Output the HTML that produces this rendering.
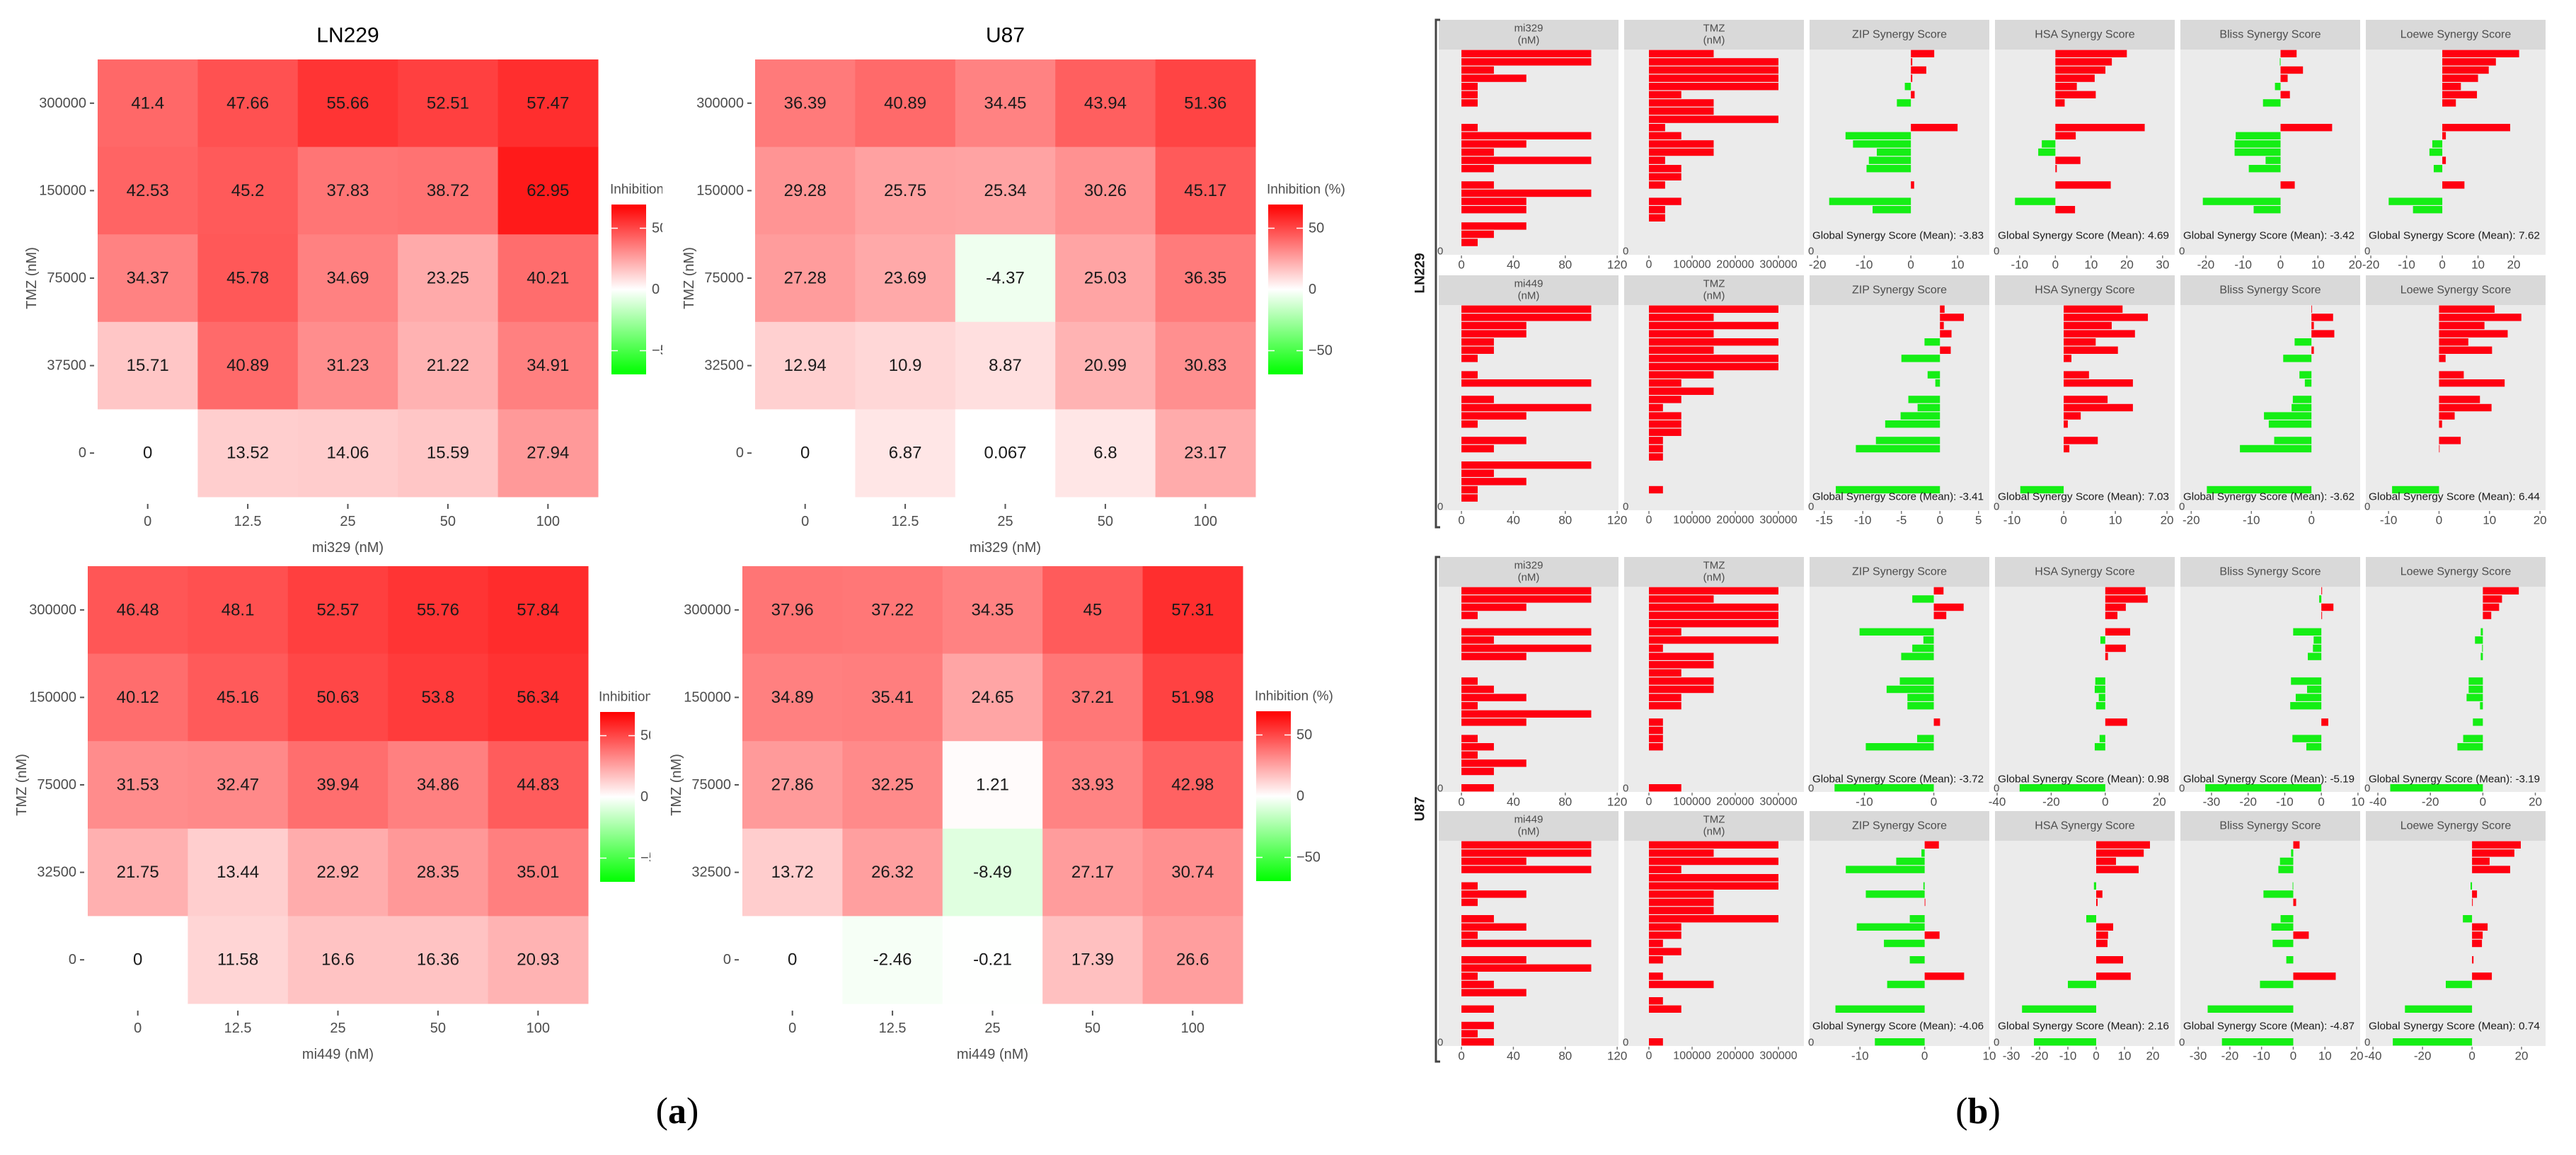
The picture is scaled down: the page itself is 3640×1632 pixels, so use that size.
<!DOCTYPE html>
<html><head><meta charset="utf-8"><title>Heatmaps and synergy scores</title>
<style>html,body{margin:0;padding:0;background:#fff;}svg{display:block;font-family:"Liberation Sans",sans-serif;}</style>
</head><body>
<svg id="fig" xmlns="http://www.w3.org/2000/svg" width="3640" height="1632" viewBox="0 0 3640 1632">
<defs>
<linearGradient id="leg" x1="0" y1="0" x2="0" y2="1"><stop offset="0" stop-color="#ff0000"/><stop offset="0.5" stop-color="#ffffff"/><stop offset="1" stop-color="#00ff00"/></linearGradient>
<clipPath id="clip1"><rect x="840" y="240" width="96" height="320"/></clipPath>
<clipPath id="clip3"><rect x="830" y="960" width="89" height="320"/></clipPath>
</defs>
</svg>
<script>
// ---------- heatmap data (rows: TMZ high->0, cols: mi 0,12.5,25,50,100) ----------
const heatXTicks=["0","12.5","25","50","100"];
const yTicksA=["300000","150000","75000","37500","0"];
const yTicksB=["300000","150000","75000","32500","0"];
const ln229Mi329=[[41.4,47.66,55.66,52.51,57.47],[42.53,45.2,37.83,38.72,62.95],[34.37,45.78,34.69,23.25,40.21],[15.71,40.89,31.23,21.22,34.91],[0,13.52,14.06,15.59,27.94]];
const u87Mi329=[[36.39,40.89,34.45,43.94,51.36],[29.28,25.75,25.34,30.26,45.17],[27.28,23.69,-4.37,25.03,36.35],[12.94,10.9,8.87,20.99,30.83],[0,6.87,0.067,6.8,23.17]];
const ln229Mi449=[[46.48,48.1,52.57,55.76,57.84],[40.12,45.16,50.63,53.8,56.34],[31.53,32.47,39.94,34.86,44.83],[21.75,13.44,22.92,28.35,35.01],[0,11.58,16.6,16.36,20.93]];
const u87Mi449=[[37.96,37.22,34.35,45,57.31],[34.89,35.41,24.65,37.21,51.98],[27.86,32.25,1.21,33.93,42.98],[13.72,26.32,-8.49,27.17,30.74],[0,-2.46,-0.21,17.39,26.6]];
const legendTicks=[50,0,-50];

// ---------- synergy bar data (25 rows each, null = no bar) ----------
const aMi=[100,100,25,50,12.5,12.5,12.5,null,null,12.5,100,50,25,100,25,null,25,100,50,50,null,50,25,12.5,null];
const aTmz=[150000,300000,300000,300000,300000,75000,150000,150000,300000,37500,75000,150000,150000,37500,75000,75000,37500,null,75000,37500,37500,null,null,null,null];
const aZip=[5,0.3,3.3,0.3,-1.3,0.8,-3,null,null,10,-14,-12.4,-7.3,-9,-9.5,null,0.7,null,-17.5,-8.2,null,null,null,null,null];
const aHsa=[20,15.8,14,11,6,11.3,2.6,null,null,25,5.7,-3.8,-4.8,7,0.4,null,15.5,null,-11.3,5.5,null,null,null,null,null];
const aBliss=[4.3,-0.2,6,1.9,-1.5,2.5,-4.7,null,null,13.8,-12,-12.3,-12.3,-4,-8.5,null,3.8,null,-20.8,-7.2,null,null,null,null,null];
const aLoewe=[21.5,15,13,10,5.2,9.7,3.8,null,null,19,1,-2.8,-3.6,1,-2.4,null,6.2,null,-15,-8.2,null,null,null,null,null];

const bMi=[100,100,50,50,25,25,12.5,null,12.5,100,null,25,100,50,12.5,null,50,25,null,100,25,50,12.5,12.5,null];
const bTmz=[300000,150000,300000,150000,300000,150000,300000,300000,150000,75000,150000,75000,32500,75000,75000,75000,32500,32500,32500,null,null,null,32500,null,null];
const bZip=[0.6,3.1,0.5,1.5,-2,1.4,-5,null,-1.6,-0.6,null,-4.1,-2.9,-5.1,-7.1,null,-8.3,-10.9,null,null,null,null,-13.5,null,null];
const bHsa=[11.4,16.3,9.3,13.8,6.2,10.5,1.5,null,4.9,13.4,null,8.5,13.4,3.3,0.8,null,6.6,1.1,null,null,null,null,-8.4,null,null];
const bBliss=[0.1,3.6,0.4,3.8,-2.8,0.4,-4.7,null,-2,-1.1,null,-3.1,-3.3,-7.9,-7.1,null,-6.2,-11.9,null,null,null,null,-17.4,null,null];
const bLoewe=[11,16.3,9,13.6,5.8,10.5,1.3,null,4.9,13,null,8.1,10.4,3.1,0.6,null,4.3,0.1,null,null,null,null,-9.3,null,null];

const cMi=[100,100,50,12.5,null,100,25,100,50,null,null,12.5,25,50,12.5,100,50,null,12.5,25,12.5,50,25,null,25];
const cTmz=[300000,150000,300000,300000,300000,75000,300000,32500,150000,150000,75000,150000,150000,75000,75000,null,32500,32500,32500,32500,null,null,null,null,75000];
const cZip=[1.4,-3.1,4.3,1.8,null,-10.7,-1.5,-3.1,-4.7,null,null,-4.9,-6.8,-3.8,-3.8,null,0.9,null,-2.4,-9.8,null,null,null,null,-14.3];
const cHsa=[14.9,15.7,7.6,4.5,null,9.2,-1.8,7.6,1,null,null,-3.7,-3.9,-2.4,-3.4,null,8.1,null,-2.1,-3.9,null,null,null,null,-31.7];
const cBliss=[0.2,-0.6,3.3,0.2,null,-7.7,-2.1,-2.3,-3.7,null,null,-8.3,-3.9,-7,-8.5,null,1.9,null,-7.9,-4.1,null,null,null,null,-31.7];
const cLoewe=[13.7,7.3,6.2,3.2,null,-0.8,-3,-0.3,-0.8,null,null,-5.4,-5.4,-6.2,-1.1,null,-3.8,null,-7.5,-9.7,null,null,null,null,-35.3];

const dMi=[100,100,50,100,null,12.5,50,12.5,null,25,50,12.5,100,null,50,100,12.5,25,50,null,25,null,25,12.5,25];
const dTmz=[300000,150000,300000,75000,300000,300000,150000,150000,150000,300000,75000,75000,32500,75000,32500,null,32500,150000,null,32500,75000,null,null,null,32500];
const dZip=[2.2,-0.5,-4.4,-12.2,null,-0.2,-9.1,0.1,null,-2.3,-10.5,2.3,-6.3,null,-2.3,null,6.1,-5.8,null,null,-13.8,null,null,null,-7.7];
const dHsa=[19,16.8,7,15,null,-0.8,2.2,0.5,null,-3.5,6,4.2,4,null,9.5,null,12.2,-10,null,null,-26.2,null,null,null,-22];
const dBliss=[2,-0.7,-4.2,-4.7,null,-0.2,-9.4,0.9,null,-4,-6.9,4.9,-6.5,null,-2.2,null,13.4,-10.5,null,null,-27,null,null,null,-22.5];
const dLoewe=[19.7,17.1,7.1,15.4,null,-0.6,2,0.3,null,-3.7,6.3,4.3,4,null,0.6,null,8,-10.6,null,null,-27.1,null,null,null,-32];

const globalA=["-3.83","4.69","-3.42","7.62"];
const globalB=["-3.41","7.03","-3.62","6.44"];
const globalC=["-3.72","0.98","-5.19","-3.19"];
const globalD=["-4.06","2.16","-4.87","0.74"];
const synergyNames=["ZIP Synergy Score","HSA Synergy Score","Bliss Synergy Score","Loewe Synergy Score"];

const S='http://www.w3.org/2000/svg';
const svg=document.getElementById('fig');
function mk(tag,parent){const e=document.createElementNS(S,tag);parent.appendChild(e);return e;}
function at(e,o){for(const k in o)e.setAttribute(k,o[k]);return e;}
function txt(parent,x,y,s,size,fill,anchor){const t=mk('text',parent);at(t,{x:x,y:y,'font-size':size,fill:fill,'text-anchor':anchor||'middle','dominant-baseline':'central'});t.textContent=s;return t;}
function hcol(v){const t=Math.min(1,Math.abs(v)/70);const c=Math.round(255*(1-t));return v>=0?`rgb(255,${c},${c})`:`rgb(${c},255,${c})`;}

// ---------- heatmaps ----------
const CW=141.4, CH=123.6;
function heat(name,x0,y0,data,yTicks,xlab,title,legX,legY,clip){
  const g=mk('g',svg);
  
  
  data.forEach((row,r)=>row.forEach((v,c)=>{
    const re=mk('rect',g);at(re,{x:x0+c*CW,y:y0+r*CH,width:CW+0.5,height:CH+0.5,fill:hcol(v)});
    
    
    const t=txt(g,x0+c*CW+CW/2,y0+r*CH+CH/2,String(v),24,'#1a1a1a');
    
    
  }));
  yTicks.forEach((s,r)=>{
    const yy=y0+r*CH+CH/2;
    const t=txt(g,x0-16,yy,s,20,'#4d4d4d','end');
    
    
    const l=mk('line',g);at(l,{x1:x0-11,x2:x0-5,y1:yy,y2:yy,stroke:'#555','stroke-width':2});
  });
  const y1=y0+5*CH;
  heatXTicks.forEach((s,c)=>{
    const xx=x0+c*CW+CW/2;
    const l=mk('line',g);at(l,{x1:xx,x2:xx,y1:y1+10,y2:y1+17,stroke:'#555','stroke-width':2});
    const t=txt(g,xx,y1+35,s,20,'#4d4d4d');
    
    
  });
  const xt=txt(g,x0+2.5*CW,y1+72,xlab,20,'#4d4d4d');
  
  
  const yt=txt(g,0,0,'TMZ (nM)',20,'#4d4d4d');
  yt.setAttribute('transform',`translate(${x0-93},${y0+2.5*CH}) rotate(-90)`);
  
  
  if(title){const tt=txt(g,x0+2.5*CW,50,title,30,'#000');
    
    }
  const lg=mk('g',g);
  if(clip)lg.setAttribute('clip-path',`url(#${clip})`);
  
  
  const lt=txt(lg,legX-2,legY-21,'Inhibition (%)',19,'#4d4d4d','start');
  
  
  const bar=mk('rect',lg);at(bar,{x:legX,y:legY,width:49,height:240,fill:'url(#leg)'});
  
  
  legendTicks.forEach(v=>{
    const yy=legY+120-v*(86.5/50);
    const l=mk('line',lg);at(l,{x1:legX,x2:legX+9,y1:yy,y2:yy,stroke:'#fff','stroke-width':1.5});
    const l2=mk('line',lg);at(l2,{x1:legX+40,x2:legX+49,y1:yy,y2:yy,stroke:'#fff','stroke-width':1.5});
    const t=txt(lg,legX+57,yy,v<0?'\u2212'+Math.abs(v):String(v),20,'#4d4d4d','start');
    
    
  });
}
heat('heatmap-ln229-mi329',138,84,ln229Mi329,yTicksA,'mi329 (nM)','LN229',864,289,'clip1');
heat('heatmap-u87-mi329',1067,84,u87Mi329,yTicksB,'mi329 (nM)','U87',1792,289,null);
heat('heatmap-ln229-mi449',124,800,ln229Mi449,yTicksB,'mi449 (nM)',null,848,1006,'clip3');
heat('heatmap-u87-mi449',1049,800,u87Mi449,yTicksB,'mi449 (nM)',null,1775,1005,null);

// ---------- synergy bar panels ----------
const COLX=[2033,2295,2557,2819,3081,3343], PW=254, STRIPH=42, PH=290;
const tmzTicks=[0,100000,200000,300000], miTicks=[0,40,80,120];
const blocks=[
 {name:'ln229-mi329',top:28,drug:'mi329',vals:[aMi,aTmz,aZip,aHsa,aBliss,aLoewe],glob:globalA,gOff:27,
  dom:[[-17.5,121],[-57377,359000],[-21.7,16.8],[-16.9,33.4],[-26.8,21.3],[-21.4,28.9]],
  ticks:[miTicks,tmzTicks,[-20,-10,0,10],[-10,0,10,20,30],[-20,-10,0,10,20],[-20,-10,0,10,20]]},
 {name:'ln229-mi449',top:389,drug:'mi449',vals:[bMi,bTmz,bZip,bHsa,bBliss,bLoewe],glob:globalB,gOff:19,
  dom:[[-17.5,121],[-57377,359000],[-16.9,6.4],[-13.3,21.5],[-21.8,8.1],[-14.5,21.1]],
  ticks:[miTicks,tmzTicks,[-15,-10,-5,0,5],[-10,0,10,20],[-20,-10,0],[-10,0,10,20]]},
 {name:'u87-mi329',top:787,drug:'mi329',vals:[cMi,cTmz,cZip,cHsa,cBliss,cLoewe],glob:globalC,gOff:18,
  dom:[[-17.5,121],[-57377,359000],[-17.9,8.0],[-40.8,25.7],[-38.5,10.6],[-44.6,23.9]],
  ticks:[miTicks,tmzTicks,[-10,0],[-40,-20,0,20],[-30,-20,-10,0,10],[-40,-20,0,20]]},
 {name:'u87-mi449',top:1146,drug:'mi449',vals:[dMi,dTmz,dZip,dHsa,dBliss,dLoewe],glob:globalD,gOff:28,
  dom:[[-17.5,121],[-57377,359000],[-17.8,10],[-35.75,27.75],[-35.6,21.1],[-42.9,29.7]],
  ticks:[miTicks,tmzTicks,[-10,0,10],[-30,-20,-10,0,10,20],[-30,-20,-10,0,10,20],[-40,-20,0,20]]}
];
blocks.forEach(b=>{
  const g=mk('g',svg);
  
  
  const pTop=b.top+STRIPH, pBot=pTop+PH, pitch=PH/25;
  for(let k=0;k<6;k++){
    const x0=COLX[k];
    const [lo,hi]=b.dom[k];
    const sx=v=>x0+(v-lo)/(hi-lo)*PW;
    const st=mk('rect',g);at(st,{x:x0,y:b.top,width:PW,height:STRIPH,fill:'#d9d9d9'});
    
    
    if(k<2){
      const t1=txt(g,x0+PW/2,b.top+12,k==0?b.drug:'TMZ',15,'#4d4d4d');
      
      
      const t2=txt(g,x0+PW/2,b.top+29,'(nM)',15,'#4d4d4d');
      
      
    } else {
      const t1=txt(g,x0+PW/2,b.top+21,synergyNames[k-2],16,'#4d4d4d');
      
      
    }
    const pn=mk('rect',g);at(pn,{x:x0,y:pTop,width:PW,height:PH,fill:'#ebebeb'});
    
    
    b.vals[k].forEach((v,i)=>{
      if(v===null)return;
      const a=sx(0), e=sx(v);
      const r=mk('rect',g);at(r,{x:Math.min(a,e),y:pTop+i*pitch+0.6,width:Math.max(0.8,Math.abs(e-a)),height:pitch-1.2,fill:v>=0?'#ff0010':'#15ee15'});
      
      
    });
    b.ticks[k].forEach(tv=>{
      const xx=sx(tv);
      const l=mk('line',g);at(l,{x1:xx,x2:xx,y1:pBot+1,y2:pBot+5,stroke:'#777','stroke-width':1.5});
      const t=txt(g,xx,pBot+14,String(tv),k==1?16:17,'#4d4d4d');
      
      
    });
    const z=txt(g,x0-2,pBot-5,'0',15,'#4d4d4d','start');
    
    
    if(k>=2){
      const gt=txt(g,x0+4,pBot-b.gOff,'Global Synergy Score (Mean): '+b.glob[k-2],15,'#1a1a1a','start');
      gt.setAttribute('textLength',242);
      gt.setAttribute('lengthAdjust','spacingAndGlyphs');
      
      
    }
  }
});
// brackets and cell-line labels
[[28,745,'LN229',386],[787,1500,'U87',1143]].forEach(([y1,y2,lab,ly])=>{
  const p=mk('path',svg);at(p,{d:`M2035 ${y1} H2029 V${y2} H2035`,fill:'none',stroke:'#444','stroke-width':3});
  
  
  const t=txt(svg,0,0,lab,19,'#1a1a1a');
  t.setAttribute('transform',`translate(2007,${ly}) rotate(-90)`);
  t.setAttribute('font-weight','bold');
  
  
});
// panel letters
[[957,'a'],[2795,'b']].forEach(([x,l])=>{
  const t=mk('text',svg);at(t,{x:x,y:1570,'font-size':52,'text-anchor':'middle','dominant-baseline':'central','font-family':'"Liberation Serif",serif',fill:'#000'});
  t.appendChild(document.createTextNode('('));
  const ts=mk('tspan',t);ts.setAttribute('font-weight','bold');ts.textContent=l;
  t.appendChild(document.createTextNode(')'));
  
  
});
</script>
</body></html>
